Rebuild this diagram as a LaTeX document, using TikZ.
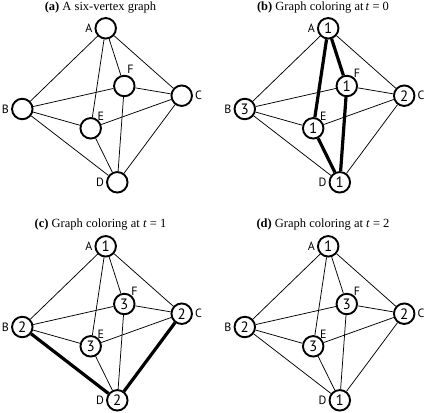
\documentclass[tikz,border=0pt]{standalone}
\usepackage{fontspec}
\setmainfont{Liberation Serif}
\newfontfamily\vxfont{PT Sans}

\tikzset{every picture/.style={line width=0.75pt}}
\tikzset{
  vertex/.style={circle,draw,line width=1.9pt,fill=white,minimum size=20.5pt,inner sep=0pt,font=\vxfont\fontsize{15}{15}\selectfont},
  vlabel/.style={font=\vxfont\fontsize{12}{12}\selectfont,inner sep=0.75pt},
  edge/.style={line width=0.75pt},
  heavy/.style={line width=3.2pt},
  caption/.style={font=\fontsize{12.5}{14}\selectfont,inner sep=0.75pt}
}

\begin{document}
\begin{tikzpicture}[x=1pt,y=1pt,yscale=-1,xscale=1]
\useasboundingbox (0,0) rectangle (427,412);

% (a) -------------------------------------------------------
\begin{scope}[shift={(0,0)}]
\node [caption] (atitle) at (100.5,7.5) {\textbf{(a)} A six-vertex graph};
\node [vertex,label={[vlabel,label distance=1pt]left:A}] (aA) at (105.7,28.3) {};
\node [vertex,label={[vlabel,label distance=0pt]80:F}] (aF) at (124.3,86) {};
\node [vertex,label={[vlabel,label distance=1pt]right:C}] (aC) at (181.7,95.7) {};
\node [vertex,label={[vlabel,label distance=1pt]left:B}] (aB) at (22.3,109) {};
\node [vertex,label={[vlabel,label distance=-2pt]50:E}] (aE) at (90.7,128.3) {};
\node [vertex,label={[vlabel,label distance=1pt]left:D}] (aD) at (117.3,182.3) {};
\end{scope}

% (b) -------------------------------------------------------
\begin{scope}[shift={(222.5,0)}]
\node [caption] (btitle) at (100.5,7.5) {\textbf{(b)} Graph coloring at\,\textit{t} = 0};
\node [vertex,label={[vlabel,label distance=1pt]left:A}] (bA) at (105.7,28.3) {1};
\node [vertex,label={[vlabel,label distance=-2pt]50:F}] (bF) at (124.3,86) {1};
\node [vertex,label={[vlabel,label distance=1pt]right:C}] (bC) at (181.7,95.7) {2};
\node [vertex,label={[vlabel,label distance=1pt]left:B}] (bB) at (22.3,109) {3};
\node [vertex,label={[vlabel,label distance=-2pt]50:E}] (bE) at (90.7,128.3) {1};
\node [vertex,label={[vlabel,label distance=1pt]left:D}] (bD) at (117.3,182.3) {1};
\end{scope}

% (c) -------------------------------------------------------
\begin{scope}[shift={(0,218)}]
\node [caption] (ctitle) at (100.5,7) {\textbf{(c)} Graph coloring at \textit{t} = 1};
\node [vertex,label={[vlabel,label distance=1pt]left:A}] (cA) at (105.7,28.3) {1};
\node [vertex,label={[vlabel,label distance=-2pt]50:F}] (cF) at (124.3,86) {3};
\node [vertex,label={[vlabel,label distance=1pt]right:C}] (cC) at (181.7,95.7) {2};
\node [vertex,label={[vlabel,label distance=1pt]left:B}] (cB) at (22.3,109) {2};
\node [vertex,label={[vlabel,label distance=-2pt]50:E}] (cE) at (90.7,128.3) {3};
\node [vertex,label={[vlabel,label distance=1pt]left:D}] (cD) at (117.3,182.3) {2};
\end{scope}

% (d) -------------------------------------------------------
\begin{scope}[shift={(222.5,218)}]
\node [caption] (dtitle) at (100.5,7) {\textbf{(d)} Graph coloring at \textit{t} = 2};
\node [vertex,label={[vlabel,label distance=1pt]left:A}] (dA) at (105.7,28.3) {1};
\node [vertex,label={[vlabel,label distance=-2pt]50:F}] (dF) at (124.3,86) {3};
\node [vertex,label={[vlabel,label distance=1pt]right:C}] (dC) at (181.7,95.7) {2};
\node [vertex,label={[vlabel,label distance=1pt]left:B}] (dB) at (22.3,109) {2};
\node [vertex,label={[vlabel,label distance=-2pt]50:E}] (dE) at (90.7,128.3) {3};
\node [vertex,label={[vlabel,label distance=1pt]left:D}] (dD) at (117.3,182.3) {1};
\end{scope}

% Straight Lines (every panel has the same twelve edges)
\foreach \p in {a,b,c,d}{
  \draw [edge] (\p A) -- (\p B);
  \draw [edge] (\p A) -- (\p E);
  \draw [edge] (\p A) -- (\p F);
  \draw [edge] (\p A) -- (\p C);
  \draw [edge] (\p B) -- (\p F);
  \draw [edge] (\p B) -- (\p E);
  \draw [edge] (\p B) -- (\p D);
  \draw [edge] (\p F) -- (\p C);
  \draw [edge] (\p F) -- (\p D);
  \draw [edge] (\p E) -- (\p C);
  \draw [edge] (\p E) -- (\p D);
  \draw [edge] (\p C) -- (\p D);
}

% Heavy Lines: conflicting colours
\draw [heavy] (bA) -- (bE);
\draw [heavy] (bA) -- (bF);
\draw [heavy] (bE) -- (bD);
\draw [heavy] (bF) -- (bD);
\draw [heavy] (cB) -- (cD);
\draw [heavy] (cC) -- (cD);

\end{tikzpicture}
\end{document}
